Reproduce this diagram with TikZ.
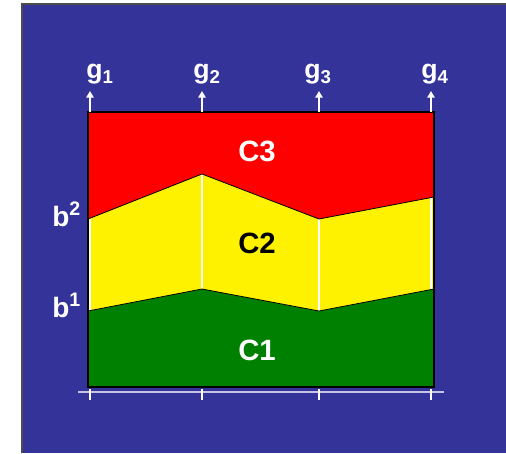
\documentclass[tikz,border=0pt]{standalone}
\usepackage{fontspec}
\setmainfont{Liberation Sans}
\usetikzlibrary{arrows.meta}
\definecolor{slideblue}{HTML}{333399}
\definecolor{axisgray}{HTML}{C4C4E4}
\newcommand{\gsub}[1]{\raisebox{-0.35ex}{\fontsize{14}{15}\selectfont #1}}

\begin{document}
\begin{tikzpicture}[x=0.75pt, y=-0.75pt, >={Triangle[length=5pt,width=5.5pt]},
	glabel/.style={text=white, font=\fontsize{20}{22}\selectfont\bfseries, anchor=base west, inner sep=0pt},
	blabel/.style={text=white, font=\fontsize{21}{24}\selectfont\bfseries, anchor=base west, inner sep=0pt},
	clabel/.style={font=\fontsize{22}{24}\selectfont\bfseries, inner sep=0pt},
	gline/.style={white, line width=1.5pt}]
	\useasboundingbox (0,0) rectangle (506,453);
	\fill[slideblue] (22,4) rectangle (506,453);
	\draw[gray!60!black, line width=1.2pt] (22,453) -- (22,4) -- (506,4);
	% class regions
	\fill[green!50!black] (88,387) -- (88,311) -- (202,289) -- (319,311) -- (434,289) -- (434,387) -- cycle;
	\fill[yellow] (88,311) -- (202,289) -- (319,311) -- (434,289) -- (434,197) -- (319,219) -- (202,174) -- (88,219) -- cycle;
	\fill[red] (88,112) -- (88,219) -- (202,174) -- (319,219) -- (434,197) -- (434,112) -- cycle;
	\draw[white, line width=0.8pt] (90,219) -- (90,311) (202,174) -- (202,289) (319,219) -- (319,311) (431,197) -- (431,289);
	\draw[black, line width=0.6pt] (88,311) -- (202,289) -- (319,311) -- (434,289);
	\draw[black, line width=0.6pt] (88,219) -- (202,174) -- (319,219) -- (434,197);
	\draw[black, line width=1pt] (88,112) rectangle (434,387);
	% labels
	\node[clabel, text=white] (c3) at (257,151) {C3};
	\node[clabel, text=black] (c2) at (257,243) {C2};
	\node[clabel, text=white] (c1) at (257,350) {C1};
	\node[blabel] (b2) at (52,226) {b\textsuperscript{2}};
	\node[blabel] (b1) at (52,317) {b\textsuperscript{1}};
	\node[glabel] (g1) at (86,79) {g\gsub{1}};
	\node[glabel] (g2) at (193,79) {g\gsub{2}};
	\node[glabel] (g3) at (304,79) {g\gsub{3}};
	\node[glabel] (g4) at (421,79) {g\gsub{4}};
	% criteria arrows
	\coordinate (t1) at (90,112);
	\coordinate (t2) at (202,112);
	\coordinate (t3) at (319,112);
	\coordinate (t4) at (431,112);
	\draw[gline, ->] (t1) -- ++(0,-21);
	\draw[gline, ->] (t2) -- ++(0,-21);
	\draw[gline, ->] (t3) -- ++(0,-21);
	\draw[gline, ->] (t4) -- ++(0,-21);
	% scale below
	\draw[axisgray, line width=1.5pt] (78,392) -- (444,392);
	\draw[white, line width=1.2pt] (90,389) -- (90,400) (202,389) -- (202,400) (319,389) -- (319,400) (431,389) -- (431,400);
\end{tikzpicture}
\end{document}
